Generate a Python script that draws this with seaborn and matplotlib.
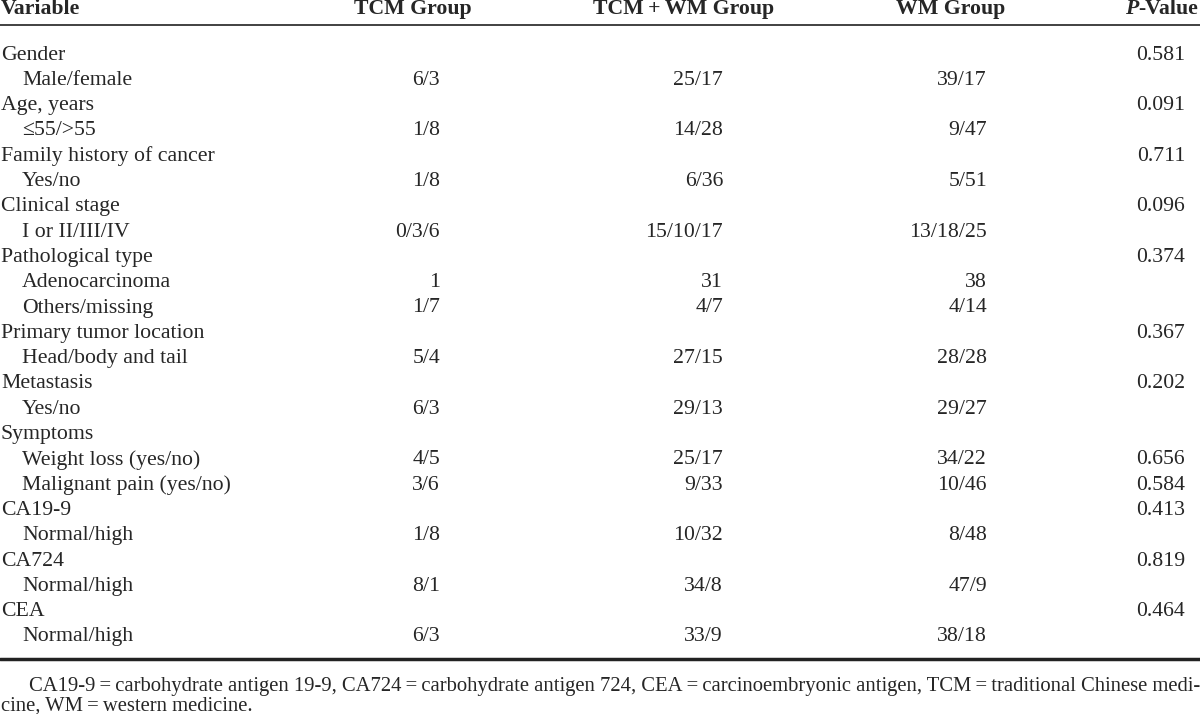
import matplotlib
matplotlib.use("Agg")
import matplotlib.pyplot as plt
import seaborn as sns

# Table content
headers = ["Variable", "TCM Group", "TCM\u2009+\u2009WM Group", "WM Group", "P-Value"]

labels = [
    "Gender", "Male/female",
    "Age, years", "\u226455/>55",
    "Family history of cancer", "Yes/no",
    "Clinical stage", "I or II/III/IV",
    "Pathological type", "Adenocarcinoma", "Others/missing",
    "Primary tumor location", "Head/body and tail",
    "Metastasis", "Yes/no",
    "Symptoms", "Weight loss (yes/no)", "Malignant pain (yes/no)",
    "CA19-9", "Normal/high",
    "CA724", "Normal/high",
    "CEA", "Normal/high",
]
indented = [False, True, False, True, False, True, False, True,
            False, True, True, False, True, False, True,
            False, True, True, False, True, False, True, False, True]

tcm = ["", "6/3", "", "1/8", "", "1/8", "", "0/3/6", "", "1", "1/7", "", "5/4",
       "", "6/3", "", "4/5", "3/6", "", "1/8", "", "8/1", "", "6/3"]
tcm_wm = ["", "25/17", "", "14/28", "", "6/36", "", "15/10/17", "", "31", "4/7", "", "27/15",
          "", "29/13", "", "25/17", "9/33", "", "10/32", "", "34/8", "", "33/9"]
wm = ["", "39/17", "", "9/47", "", "5/51", "", "13/18/25", "", "38", "4/14", "", "28/28",
      "", "29/27", "", "34/22", "10/46", "", "8/48", "", "47/9", "", "38/18"]
p_values = ["0.581", "", "0.091", "", "0.711", "", "0.096", "", "0.374", "", "", "0.367", "",
            "0.202", "", "", "0.656", "0.584", "0.413", "", "0.819", "", "0.464", ""]

footnote = [
    "CA19-9\u2009=\u2009carbohydrate antigen 19-9, CA724\u2009=\u2009carbohydrate antigen 724, "
    "CEA\u2009=\u2009carcinoembryonic antigen, TCM\u2009=\u2009traditional Chinese medi-",
    "cine, WM\u2009=\u2009western medicine.",
]

sns.set_theme(style="white")
plt.rcParams["font.family"] = ["Liberation Serif", "DejaVu Serif"]

fig = plt.figure(figsize=(12, 7.14), dpi=100)
ax = fig.add_axes([0, 0, 1, 1])
ax.set_xlim(0, 1200)
ax.set_ylim(714, 0)
ax.axis("off")

fs = 15.7
hdr_y = 9
# header
ax.text(1, hdr_y, headers[0], ha="left", va="center", fontsize=fs, fontweight="bold")
ax.text(413, hdr_y, headers[1], ha="center", va="center", fontsize=fs, fontweight="bold")
ax.text(684, hdr_y, headers[2], ha="center", va="center", fontsize=fs, fontweight="bold")
ax.text(951, hdr_y, headers[3], ha="center", va="center", fontsize=fs, fontweight="bold")
pv = ax.text(1198, hdr_y, "-Value", ha="right", va="center", fontsize=fs, fontweight="bold")
fig.canvas.draw()
x0 = ax.transData.inverted().transform(pv.get_window_extent().p0)[0]
ax.text(x0, hdr_y, "P", ha="right", va="center", fontsize=fs, fontweight="bold", fontstyle="italic")

ax.axhline(25, color="#333333", lw=1.3)
ax.axhline(659, color="#222222", lw=2.5)

# body rows
col_right = [440, 723, 987, 1185]
for i, lab in enumerate(labels):
    y = 55 + i * 25.3
    ax.text(22 if indented[i] else 1, y, lab, ha="left", va="center", fontsize=fs)
    for x, col in zip(col_right, [tcm, tcm_wm, wm, p_values]):
        if col[i]:
            ax.text(x, y, col[i], ha="right", va="center", fontsize=fs)

# footnote
ax.text(29, 687, footnote[0], ha="left", va="center", fontsize=14.85)
ax.text(1, 706, footnote[1], ha="left", va="center", fontsize=14.85)

fig.savefig("out.png", dpi=100)
